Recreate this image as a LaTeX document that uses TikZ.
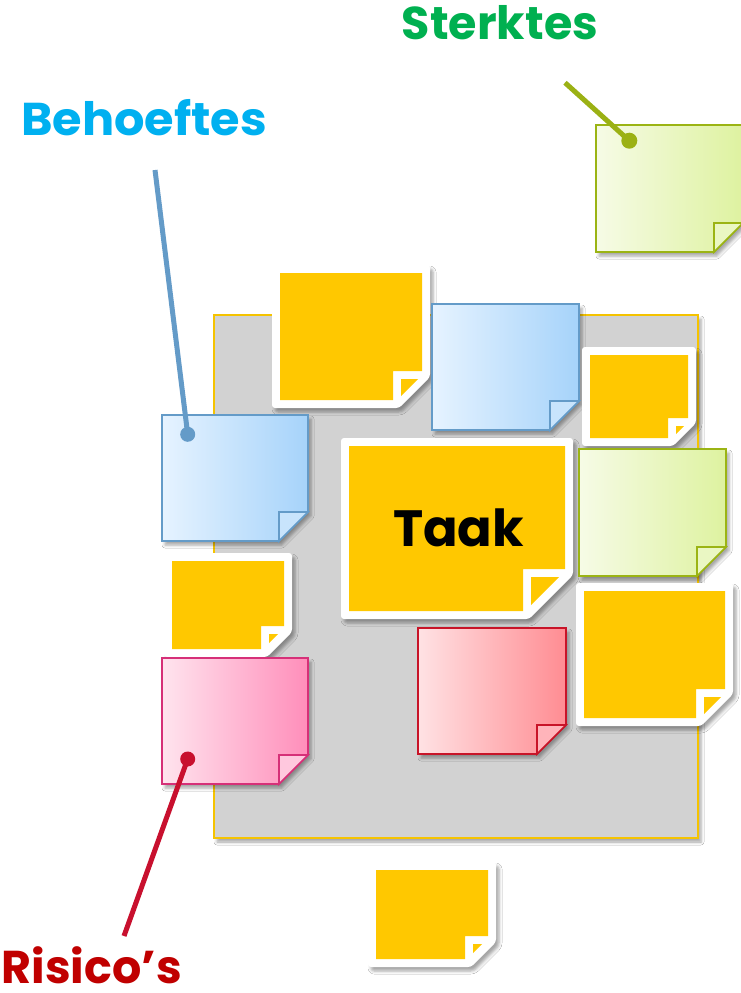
\documentclass[tikz,border=0pt]{standalone}
\usepackage{fontspec}
\newfontfamily\labfont{Poppins}
\usetikzlibrary{shadows.blur}
\definecolor{boardgray}{RGB}{210,210,210}
\definecolor{boardedge}{RGB}{245,195,0}
\definecolor{ycol}{RGB}{255,200,0}
\definecolor{sterkc}{RGB}{0,176,80}
\definecolor{behoc}{RGB}{0,176,240}
\definecolor{risc}{RGB}{192,0,0}
\definecolor{greenpin}{RGB}{155,177,20}
\definecolor{bluepin}{RGB}{100,155,200}
\definecolor{redpin}{RGB}{200,16,46}
\definecolor{bluebd}{RGB}{100,155,200}
\definecolor{bluel}{RGB}{230,243,255}
\definecolor{bluer}{RGB}{166,211,250}
\definecolor{bluef}{RGB}{200,228,252}
\definecolor{greenbd}{RGB}{155,180,20}
\definecolor{greenl}{RGB}{246,251,230}
\definecolor{greenr}{RGB}{222,242,160}
\definecolor{greenf}{RGB}{234,247,195}
\definecolor{pinkbd}{RGB}{214,48,120}
\definecolor{pinkl}{RGB}{255,228,238}
\definecolor{pinkr}{RGB}{255,142,186}
\definecolor{pinkf}{RGB}{255,200,222}
\definecolor{redbd}{RGB}{200,20,40}
\definecolor{redl}{RGB}{255,226,228}
\definecolor{redr}{RGB}{255,140,146}
\definecolor{redf}{RGB}{255,180,186}
\tikzset{
  shd/.style={blur shadow={shadow xshift=3pt, shadow yshift=-4pt, shadow blur radius=3pt, shadow opacity=35}},
  bluenote/.style={draw=bluebd, left color=bluel, right color=bluer},
  bluefold/.style={draw=bluebd, fill=bluef},
  greennote/.style={draw=greenbd, left color=greenl, right color=greenr},
  greenfold/.style={draw=greenbd, fill=greenf},
  pinknote/.style={draw=pinkbd, left color=pinkl, right color=pinkr},
  pinkfold/.style={draw=pinkbd, fill=pinkf},
  rednote/.style={draw=redbd, left color=redl, right color=redr},
  redfold/.style={draw=redbd, fill=redf},
  lab/.style={font=\labfont\bfseries\fontsize{46}{46}\selectfont, anchor=base, inner sep=0pt},
  pinline/.style={line width=5pt},
  pindot/.style={circle, inner sep=0pt, minimum size=15pt}
}
% yellow note: name, x1, y1, x2, y2, cut, fold, leg
\newcommand\ynote[8]{%
  \path[shd, fill=white, rounded corners=3pt] (#2,#3) -- (#4,#3) -- (#4,#5-#6) -- (#4-#6,#5) -- (#2,#5) -- cycle;
  \fill[ycol] (#2+8,#3+8) -- (#4-8,#3+8) -- (#4-8,#5-#7) -- (#4-#7,#5-#7) -- (#4-#7,#5-8) -- (#2+8,#5-8) -- cycle;
  \fill[ycol] (#4-#7+8,#5-#7+8) -- (#4-#7+8+#8,#5-#7+8) -- (#4-#7+8,#5-#7+8+#8) -- cycle;
  \coordinate (#1) at ({(#2+#4)/2},{(#3+#5)/2});
}
% coloured note: name, x1, y1, x2, y2, colour
\newcommand\cnote[6]{%
  \path[shd, #6note, line width=1.6pt] (#2,#3) -- (#4,#3) -- (#4,#5-29) -- (#4-29,#5) -- (#2,#5) -- cycle;
  \path[#6fold, line width=1.6pt] (#4-29,#5-29) -- (#4,#5-29) -- (#4-29,#5) -- cycle;
  \coordinate (#1) at ({(#2+#4)/2},{(#3+#5)/2});
}
\begin{document}
\begin{tikzpicture}[x=1pt,y=-1pt]
\useasboundingbox (0,0) rectangle (741,993);
\fill[white] (0,0) rectangle (741,993);
% board
\path[shd, fill=boardgray, draw=boardedge, line width=1.5pt] (214,315) rectangle (698,838);
% notes
\ynote{n1}{272}{265}{430}{408}{31}{37}{17}
\cnote{b1}{432}{304}{579}{430}{blue}
\ynote{n2}{582}{347}{696}{446}{23}{28}{8}
\cnote{b2}{162}{415}{308}{541}{blue}
\ynote{n6}{341}{438}{573}{619}{44}{50}{28}
\cnote{g1}{579}{449}{726}{576}{green}
\ynote{n3}{164}{553}{292}{657}{25}{31}{9}
\ynote{n4}{576}{583}{733}{726}{32}{37}{17}
\cnote{r1}{418}{628}{566}{754}{red}
\cnote{p1}{162}{658}{308}{784}{pink}
\ynote{n5}{368}{862}{496}{967}{25}{31}{9}
\cnote{g2}{596}{125}{743}{252}{green}
% central label
\node[lab, font=\labfont\bfseries\fontsize{51}{51}\selectfont, text=black] (taak) at (458.5,546) {Taak};
% labels
\node[lab, text=sterkc] (sterktes) at (500,39.3) {Sterktes};
\node[lab, text=behoc, xscale=1.04] (behoeftes) at (144,135) {Behoeftes};
\node[lab, text=risc] (risicos) at (91.7,983) {Risico’s};
% pins
\coordinate (s0) at (565,82.7);
\coordinate (b0) at (155,170);
\coordinate (r0) at (124,936);
\draw[pinline, greenpin] (s0) -- (629.3,140.7);
\draw[pinline, bluepin] (b0) -- (187.7,434.3);
\draw[pinline, redpin] (r0) -- (187.7,759);
\node[pindot, fill=greenpin, minimum size=16pt] (sdot) at (629.3,140.7) {};
\node[pindot, fill=bluepin] (bdot) at (187.7,434.3) {};
\node[pindot, fill=redpin] (rdot) at (187.7,759) {};
\end{tikzpicture}
\end{document}
